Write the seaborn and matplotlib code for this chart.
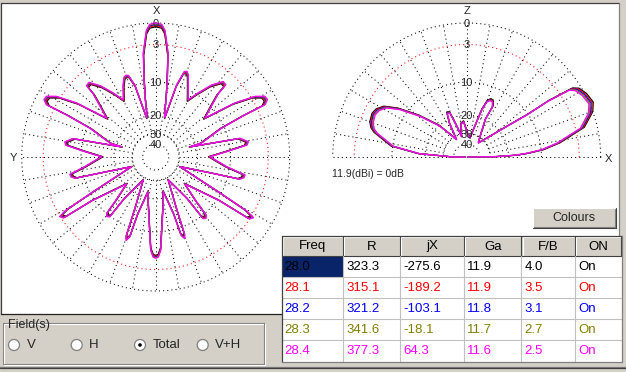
import numpy as np
import pandas as pd
import matplotlib
matplotlib.use("Agg")
import matplotlib.pyplot as plt
import seaborn as sns
from matplotlib.patches import Rectangle, Circle
from matplotlib.lines import Line2D

sns.set_theme(style="white")
plt.rcParams['font.family'] = ['Liberation Sans', 'DejaVu Sans']

# ---------------- data ----------------
freqs = ['28.0', '28.1', '28.2', '28.3', '28.4']
R_vals = ['323.3', '315.1', '321.2', '341.6', '377.3']
jX_vals = ['-275.6', '-189.2', '-103.1', '-18.1', '64.3']
Ga_vals = ['11.9', '11.9', '11.8', '11.7', '11.6']
FB_vals = ['4.0', '3.5', '3.1', '2.7', '2.5']
ON_vals = ['On', 'On', 'On', 'On', 'On']
series_colors = ['#000000', '#ff0000', '#0000ff', '#808000', '#ff00ff']
table_headers = ['Freq', 'R', 'jX', 'Ga', 'F/B', 'ON']

# per-frequency level differences (dB)
az_offsets = [-0.5, -0.35, -0.2, -0.1, 0.0]
el_offsets = [0.6, 0.45, 0.3, 0.15, 0.0]

# azimuth pattern (deg clockwise from X, relative dB) for 28.4 MHz trace
AZ_THETA = [0, 2.6, 4.2, 5.5, 6.8, 8.5, 10.2, 11.5, 13.0, 16.2, 18.5, 20.0, 21.6, 24.5,
            27.6, 29.6, 33.6, 37.8, 41.8, 44.1, 44.6, 47.4, 51.7, 55.7, 58.6, 60.9,
            62.8, 64.4, 64.7, 66.3, 69.0, 73.0, 73.5, 76.3, 77.5, 80.6, 82.5, 85.7,
            89.7, 97.8, 101.4, 103.2, 104.8, 106.2, 111.8, 119.0, 120.7, 121.8, 123.5,
            124.4, 132.7, 137.5, 139.0, 140.5, 142.4, 142.9, 151.3, 158.0, 159.5,
            160.5, 162.0, 162.5, 167.6, 169.8, 175.5, 176.9, 178.5, 180.0,
            181.5, 183.1, 184.5, 190.2, 192.4, 197.5, 198.0, 199.5, 200.5, 202.0,
            208.7, 217.1, 217.6, 219.5, 221.0, 222.5, 227.3, 235.6, 236.5, 238.2,
            239.3, 241.0, 248.2, 253.8, 255.2, 256.8, 258.6, 262.2, 270.3, 274.3,
            277.5, 279.4, 282.5, 283.7, 286.5, 287.0, 291.0, 293.7, 295.3, 295.6,
            297.2, 299.1, 301.4, 304.3, 308.3, 312.6, 315.4, 315.9, 318.2, 322.2,
            326.4, 330.4, 332.4, 335.5, 338.4, 340.0, 341.5, 343.8, 347.0, 348.5,
            349.8, 351.5, 353.2, 354.5, 355.8, 357.4, 360.0]
AZ_DB = [0.0, -0.15, -0.9, -2.6, -4.2, -9.0, -14.0, -18.5, -20.5, -9.9, -6.8, -6.6, -7.1, -9.1,
         -11.1, -12.2, -9.5, -6.6, -4.8, -4.9, -6.9, -9.7, -13.0, -5.7, -2.4, -1.2,
         -1.1, -1.7, -5.2, -10.6, -13.8, -17.6, -22.6, -13.5, -7.5, -6.1, -6.4, -10.9,
         -15.5, -10.7, -6.6, -6.7, -7.4, -14.6, -28.0, -10.8, -3.9, -2.6, -3.0,
         -9.3, -20.8, -13.9, -9.5, -9.0, -9.3, -16.0, -28.0, -14.9, -8.2,
         -7.5, -8.3, -13.6, -22.8, -19.2, -9.6, -6.2, -5.0, -4.8,
         -5.0, -6.2, -9.6, -19.2, -22.8, -13.6, -8.0, -7.1, -7.8, -14.9,
         -28.0, -16.0, -9.8, -9.5, -10.0, -13.9, -20.8, -9.3, -3.3, -2.9,
         -4.2, -10.8, -28.0, -14.6, -8.1, -7.4, -7.3, -10.7, -15.5, -10.9,
         -6.7, -6.4, -7.8, -13.5, -22.6, -17.6, -13.8, -10.6, -5.2, -1.7,
         -1.1, -1.2, -2.4, -5.7, -13.0, -9.7, -6.9, -5.1, -5.0, -6.8,
         -9.5, -12.2, -11.1, -9.1, -7.6, -7.4, -7.6, -9.9, -20.5, -18.5,
         -14.0, -9.0, -4.2, -2.6, -0.9, -0.15, 0.0]

# elevation pattern (deg above the +X horizon, relative dB) for 28.4 MHz trace
EL_THETA = [0, 0.7, 1.5, 2.3, 3.5, 5.5, 8.7, 14.2, 19.8, 23.5, 28.0, 31.5, 33.1, 34.5,
            35.0, 37.3, 43.2, 50.1, 52.8, 63.7, 62.8, 65.0, 67.5, 70.0, 72.3, 76.3,
            80.0, 88.0, 95.0, 100.0, 104.0, 108.0, 111.0, 114.0, 117.0, 120.0,
            131.0, 138.9, 144.6, 148.5, 152.0, 155.2, 160.0, 163.0, 165.0, 171.7,
            176.0, 178.0, 180.0, 180.0]
EL_DB = [-80.0, -27.0, -21.0, -17.0, -13.8, -10.0, -6.6, -2.3, -0.6, -0.1, -0.4, -0.9, -1.6, -5.5,
         -10.5, -16.8, -27.2, -34.3, -33.3, -20.2, -15.0, -13.6, -13.5, -14.3, -17.2, -27.0,
         -33.5, -30.0, -23.0, -24.0, -32.0, -24.0, -18.0, -17.8, -22.0, -32.6,
         -20.4, -13.3, -8.5, -6.1, -5.2, -4.9, -5.1, -5.6, -6.3, -10.2,
         -18.0, -32.6, -38.3, -80.0]

ring_db = [0, -3, -10, -20, -30, -40]
ring_lbl = ['0', '3', '10', '20', '30', '40']
ring_col = ['#000000', '#ff0000', '#000000', '#000000', '#000000', '#000000']

W, H = 626, 372
BG = '#d4d0c8'


def arrl_fwd(db):
    return np.power(0.89, -np.asarray(db, dtype=float) / 2.0)


def arrl_inv(r):
    r = np.clip(np.asarray(r, dtype=float), 1e-300, None)
    return -2.0 * np.log(r) / np.log(0.89)


fig = plt.figure(figsize=(W / 100, H / 100), dpi=100)
fig.patch.set_facecolor(BG)


def px_axes(z):
    a = fig.add_axes([0, 0, 1, 1], zorder=z)
    a.set_xlim(0, W)
    a.set_ylim(H, 0)
    a.axis('off')
    a.patch.set_alpha(0)
    return a


bg = px_axes(0)
ui = px_axes(5)

# white plot panel
bg.add_patch(Rectangle((0.5, 2.5), 618, 311, facecolor='white', edgecolor='none'))
for (x0, y0, x1, y1, c) in [(0.5, 2.5, 618.5, 2.5, '#404040'), (0.5, 2.5, 0.5, 313.5, '#404040'),
                            (0.5, 313.5, 618.5, 313.5, '#202020'), (618.5, 2.5, 618.5, 313.5, '#808080')]:
    bg.add_line(Line2D([x0, x1], [y0, y1], color=c, lw=0.9))
bg.add_line(Line2D([0, W], [366.5, 366.5], color='#808080', lw=0.9))
bg.add_line(Line2D([0, W], [367.5, 367.5], color='#404040', lw=0.9))


def setup_polar(rect, zero, direction):
    ax = fig.add_axes(rect, projection='polar', zorder=2)
    ax.set_theta_zero_location(zero)
    ax.set_theta_direction(direction)
    ax.set_rscale('function', functions=(arrl_fwd, arrl_inv))
    ax.patch.set_alpha(0)
    return ax


def finish_polar(ax):
    ax.set_rlim(-200, 0)
    ax.set_xticks([])
    ax.set_yticks([])
    ax.grid(False)
    ax.spines['polar'].set_visible(False)
    ax.set_xlabel('')
    ax.set_ylabel('')


dot = (0, (1, 3))
LBL = 8

# ---------------- azimuth ----------------
cx, cy, rad = 155.7, 157.0, 134.0
ax_az = setup_polar([(cx - rad) / W, (H - cy - rad) / H, 2 * rad / W, 2 * rad / H], 'N', -1)
full = np.linspace(0, 2 * np.pi, 721)
for db, c in zip(ring_db, ring_col):
    ax_az.plot(full, np.full_like(full, db), color=c, lw=0.75, ls=dot, clip_on=False)
for a in range(0, 360, 10):
    t = np.deg2rad(a)
    ax_az.plot([t, t], [-30, 0], color='black', lw=0.75, ls=dot, clip_on=False)

rows = []
for f, off in zip(freqs, az_offsets):
    for t, d in zip(AZ_THETA, AZ_DB):
        rows.append((f, np.deg2rad(t), d + off))
az_df = pd.DataFrame(rows, columns=['freq', 'theta', 'db'])
sns.lineplot(data=az_df, x='theta', y='db', hue='freq', hue_order=freqs,
             palette=dict(zip(freqs, series_colors)), sort=False, estimator=None,
             legend=False, ax=ax_az, lw=0.9, clip_on=False)
finish_polar(ax_az)
for db, lb in zip(ring_db, ring_lbl):
    ax_az.text(0, db, lb, ha='center', va='center_baseline', fontsize=LBL, clip_on=False, zorder=10)

# ---------------- elevation ----------------
ex, ey = 466.7, 157.0
ax_el = setup_polar([(ex - rad) / W, (H - ey - rad) / H, 2 * rad / W, 2 * rad / H], 'E', 1)
half = np.linspace(0, np.pi, 361)
for db, c in zip(ring_db, ring_col):
    ax_el.plot(half, np.full_like(half, db), color=c, lw=0.75, ls=dot, clip_on=False)
for a in range(10, 180, 10):
    t = np.deg2rad(a)
    ax_el.plot([t, t], [-30, 0], color='black', lw=0.75, ls=dot, clip_on=False)
ax_el.plot([np.pi, np.pi, 0, 0], [0, -200, -200, 0], color='black', lw=0.75, ls=dot, clip_on=False)

rows = []
for f, off in zip(freqs, el_offsets):
    for t, d in zip(EL_THETA, EL_DB):
        rows.append((f, np.deg2rad(t), d + off))
el_df = pd.DataFrame(rows, columns=['freq', 'theta', 'db'])
sns.lineplot(data=el_df, x='theta', y='db', hue='freq', hue_order=freqs,
             palette=dict(zip(freqs, series_colors)), sort=False, estimator=None,
             legend=False, ax=ax_el, lw=0.9, clip_on=False)
finish_polar(ax_el)
for db, lb in zip(ring_db, ring_lbl):
    ax_el.text(np.pi / 2, db, lb, ha='center', va='center_baseline', fontsize=LBL, clip_on=False, zorder=10)

# axis letters and note
bg.text(156, 11, 'X', ha='center', va='center', fontsize=LBL)
bg.text(13, 158, 'Y', ha='center', va='center', fontsize=LBL)
bg.text(466.7, 11, 'Z', ha='center', va='center', fontsize=LBL)
bg.text(608.5, 159, 'X', ha='center', va='center', fontsize=LBL)
bg.text(331.7, 174, f'{Ga_vals[0]}(dBi) = 0dB', ha='left', va='center', fontsize=7.5)

# ---------------- Colours button ----------------
bx0, by0, bx1, by1 = 532.5, 207.5, 615.5, 227.5
ui.add_patch(Rectangle((bx0, by0), bx1 - bx0, by1 - by0, facecolor=BG, edgecolor='none'))
ui.add_line(Line2D([bx0, bx1], [by0, by0], color='white', lw=0.8))
ui.add_line(Line2D([bx0, bx0], [by0, by1], color='white', lw=0.8))
ui.add_line(Line2D([bx0, bx1], [by1, by1], color='#404040', lw=0.8))
ui.add_line(Line2D([bx1, bx1], [by0, by1], color='#404040', lw=0.8))
ui.add_line(Line2D([bx0 + 1, bx1 - 1], [by1 - 1, by1 - 1], color='#808080', lw=0.8))
ui.add_line(Line2D([bx1 - 1, bx1 - 1], [by0 + 1, by1 - 1], color='#808080', lw=0.8))
ui.text((bx0 + bx1) / 2, (by0 + by1) / 2 + 0.5, 'Colours', ha='center', va='center', fontsize=9)

# ---------------- table ----------------
col_x = [281.7, 343.3, 400.0, 464.3, 521.7, 575.0, 621.7]
row_y = [236.0, 256.0, 277.3, 298.3, 319.3, 340.0, 361.7]
ui.add_patch(Rectangle((col_x[0], row_y[0]), col_x[-1] - col_x[0], row_y[-1] - row_y[0],
                       facecolor='white', edgecolor='none'))
for i in range(6):
    x0, x1 = col_x[i], col_x[i + 1]
    ui.add_patch(Rectangle((x0, row_y[0]), x1 - x0, row_y[1] - row_y[0], facecolor=BG, edgecolor='none'))
    ui.add_line(Line2D([x0 + 1, x1 - 1], [row_y[0] + 1, row_y[0] + 1], color='white', lw=0.8))
    ui.add_line(Line2D([x0 + 1, x0 + 1], [row_y[0] + 1, row_y[1] - 1], color='white', lw=0.8))
    ui.add_line(Line2D([x0, x1], [row_y[1] - 0.5, row_y[1] - 0.5], color='#404040', lw=0.8))
    ui.add_line(Line2D([x1 - 0.5, x1 - 0.5], [row_y[0], row_y[1]], color='#404040', lw=0.8))
    ui.text((x0 + x1) / 2, (row_y[0] + row_y[1]) / 2 + 0.5, table_headers[i],
            ha='center', va='center', fontsize=9.5, color='black')
# selected cell
ui.add_patch(Rectangle((col_x[0] + 1, row_y[1] + 0.5), col_x[1] - col_x[0] - 1.5, row_y[2] - row_y[1] - 1,
                       facecolor='#0a246a', edgecolor='none'))
for j in range(2, 6):
    ui.add_line(Line2D([col_x[0], col_x[-1]], [row_y[j], row_y[j]], color='#c0c0c0', lw=0.8))
for i in range(1, 6):
    ui.add_line(Line2D([col_x[i] - 0.5, col_x[i] - 0.5], [row_y[1], row_y[-1]], color='#c0c0c0', lw=0.8))
ui.add_line(Line2D([col_x[0], col_x[0]], [row_y[0], row_y[-1]], color='#404040', lw=0.9))
ui.add_line(Line2D([col_x[0], col_x[-1]], [row_y[0], row_y[0]], color='#404040', lw=0.9))
ui.add_line(Line2D([col_x[0], col_x[-1]], [row_y[-1] + 0.5, row_y[-1] + 0.5], color='#808080', lw=0.9))
ui.add_line(Line2D([col_x[-1] + 0.5, col_x[-1] + 0.5], [row_y[0], row_y[-1]], color='#808080', lw=0.9))
ui.add_patch(Rectangle((col_x[0] - 1, row_y[-1] + 1), col_x[-1] - col_x[0] + 3, 3, facecolor=BG, edgecolor='none'))

columns = [freqs, R_vals, jX_vals, Ga_vals, FB_vals, ON_vals]
for r in range(5):
    yc = (row_y[r + 1] + row_y[r + 2]) / 2 + 0.5
    for c in range(6):
        ui.text(col_x[c] + 3, yc, columns[c][r], ha='left', va='center', fontsize=9.5,
                color=series_colors[r])

# ---------------- Field(s) group ----------------
gx0, gy0, gx1, gy1 = 2.5, 322.5, 263.5, 363.5
for (a0, b0, a1, b1) in [(gx0, gy0, gx1, gy0), (gx0, gy0, gx0, gy1), (gx0, gy1, gx1, gy1), (gx1, gy0, gx1, gy1)]:
    ui.add_line(Line2D([a0, a1], [b0, b1], color='#808080', lw=0.8))
    ui.add_line(Line2D([a0 + 1, a1 + 1], [b0 + 1, b1 + 1], color='white', lw=0.8))
ui.add_patch(Rectangle((6, 317), 46, 10, facecolor=BG, edgecolor='none'))
ui.text(8, 325, 'Field(s)', ha='left', va='center', fontsize=9)
radio_labels = ['V', 'H', 'Total', 'V+H']
radio_x = [14.0, 76.7, 140.0, 202.7]
radio_sel = [False, False, True, False]
for lx, lb, s in zip(radio_x, radio_labels, radio_sel):
    ui.add_patch(Circle((lx, 345), 5.5, facecolor='white', edgecolor='#808080', lw=0.9))
    if s:
        ui.add_patch(Circle((lx, 345), 1.8, facecolor='black', edgecolor='none'))
    ui.text(lx + 12.5, 345.5, lb, ha='left', va='center', fontsize=9.5)

fig.savefig('out.png', dpi=100, facecolor=fig.get_facecolor())
